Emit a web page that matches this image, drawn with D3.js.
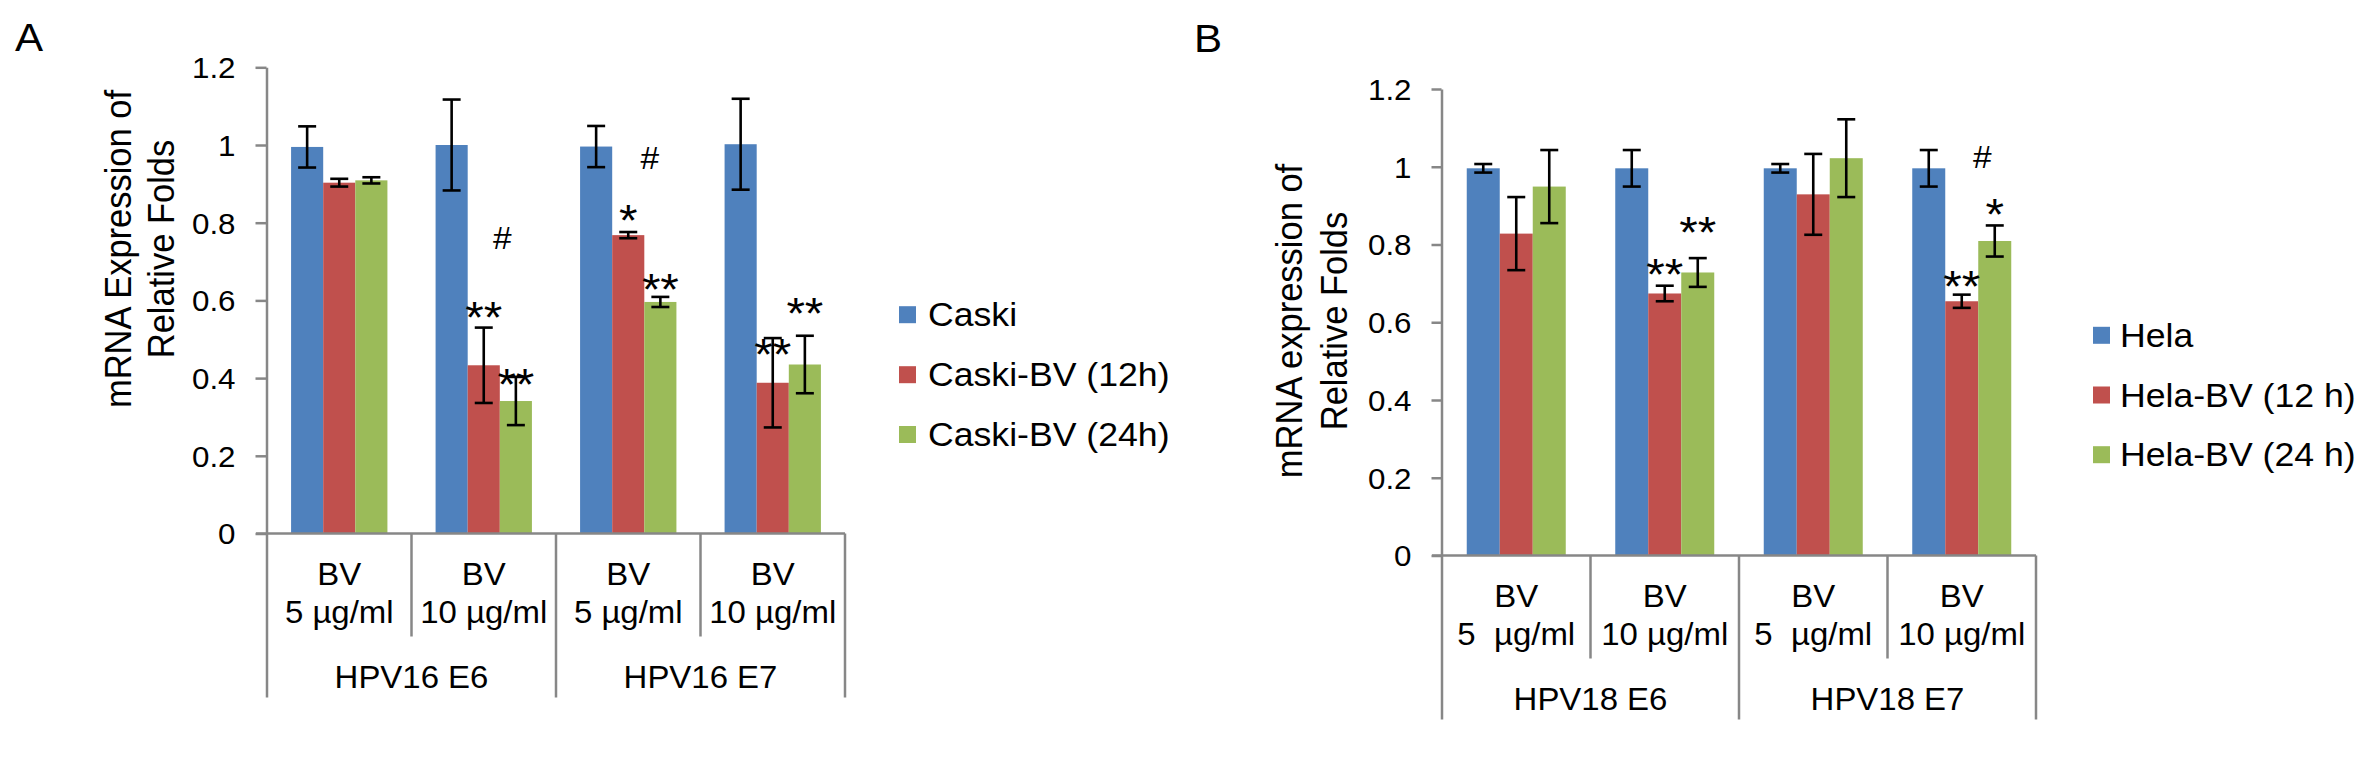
<!DOCTYPE html>
<html>
<head>
<meta charset="utf-8">
<script src="https://cdn.jsdelivr.net/npm/d3@7"></script>
<style>
html,body{margin:0;padding:0;background:#fff;}
svg{display:block;}
text{font-family:"Liberation Sans", Arial, Helvetica, sans-serif; fill:#000;}
</style>
</head>
<body>
<svg id="chart" width="2362" height="758"></svg>
<script>
// ---------- data ----------
const yTickValues = [0, 0.2, 0.4, 0.6, 0.8, 1, 1.2];
const yTickLabels = ["0", "0.2", "0.4", "0.6", "0.8", "1", "1.2"];

// Panel A
const genesA = ["HPV16 E6", "HPV16 E7"];
const dosesA = ["5 µg/ml", "10 µg/ml", "5 µg/ml", "10 µg/ml"];
const seriesA = ["Caski", "Caski-BV (12h)", "Caski-BV (24h)"];
const caski      = [0.995, 1.000, 0.996, 1.002];
const caskiErr   = [0.053, 0.117, 0.053, 0.117];
const caski12    = [0.903, 0.433, 0.768, 0.388];
const caski12Err = [0.010, 0.097, 0.008, 0.115];
const caski24    = [0.909, 0.341, 0.596, 0.435];
const caski24Err = [0.008, 0.062, 0.013, 0.074];
// [category index, bar position (bar i centre = i + 0.5), value height, mark]
const annotA = [
  [1, 1.5, 0.580, "**"], [1, 2.5, 0.408, "**"], [1, 2.08, 0.761, "#"],
  [2, 1.5, 0.831, "*"],  [2, 2.5, 0.652, "**"], [2, 2.17, 0.966, "#"],
  [3, 1.5, 0.485, "**"], [3, 2.5, 0.591, "**"]
];

// Panel B
const genesB = ["HPV18 E6", "HPV18 E7"];
const dosesB = ["5  µg/ml", "10 µg/ml", "5  µg/ml", "10 µg/ml"];
const seriesB = ["Hela", "Hela-BV (12 h)", "Hela-BV (24 h)"];
const hela      = [0.996, 0.996, 0.996, 0.996];
const helaErr   = [0.011, 0.047, 0.011, 0.047];
const hela12    = [0.828, 0.674, 0.929, 0.654];
const hela12Err = [0.094, 0.020, 0.104, 0.017];
const hela24    = [0.949, 0.728, 1.022, 0.809];
const hela24Err = [0.094, 0.037, 0.100, 0.040];
const annotB = [
  [1, 1.5, 0.747, "**"], [1, 2.5, 0.855, "**"],
  [3, 2.12, 1.026, "#"], [3, 2.5, 0.902, "*"], [3, 1.5, 0.717, "**"]
];

// ---------- style ----------
const colors = ["#4F81BD", "#C0504D", "#9BBB59"];
const axisColor = "#878787";
const SX = 1.08; // horizontal stretch of the original figure's text

const svg = d3.select("#chart");

function txt(g, str, x, y, size, anchor, rot) {
  const t = g.append("text")
    .attr("transform", `translate(${x},${y}) scale(${SX},1)` + (rot ? " rotate(-90)" : ""))
    .attr("font-size", size)
    .attr("text-anchor", anchor || "start")
    .style("white-space", "pre")
    .text(str);
  return t;
}

function drawPanel(cfg) {
  const g = svg.append("g");
  const y = d3.scaleLinear().domain([0, 1.2]).range([cfg.y0, cfg.y12]);
  const cats = d3.range(cfg.doses.length);
  const x = d3.scaleBand().domain(cats).range([cfg.x0, cfg.x1]);
  const xs = d3.scaleBand().domain(d3.range(cfg.series.length))
    .range([0, x.bandwidth()]).paddingInner(0).paddingOuter(0.75);

  // bars
  cfg.values.forEach((vals, si) => {
    g.append("g").selectAll("rect").data(vals).join("rect")
      .attr("x", (d, i) => x(i) + xs(si))
      .attr("width", xs.bandwidth())
      .attr("y", d => y(d))
      .attr("height", d => y(0) - y(d))
      .attr("fill", colors[si]);
  });

  // error bars
  cfg.values.forEach((vals, si) => {
    const eg = g.append("g").attr("stroke", "#000").attr("stroke-width", 2.6);
    vals.forEach((v, i) => {
      const e = cfg.errs[si][i];
      const cx = x(i) + xs(si) + xs.bandwidth() / 2;
      eg.append("line").attr("x1", cx).attr("x2", cx).attr("y1", y(v + e)).attr("y2", y(v - e));
      eg.append("line").attr("x1", cx - 9).attr("x2", cx + 9).attr("y1", y(v + e)).attr("y2", y(v + e));
      eg.append("line").attr("x1", cx - 9).attr("x2", cx + 9).attr("y1", y(v - e)).attr("y2", y(v - e));
    });
  });

  // y axis
  const ax = d3.axisLeft(y).tickValues(yTickValues)
    .tickFormat((d, i) => yTickLabels[i])
    .tickSize(cfg.tick).tickSizeOuter(0).tickPadding(0);
  const axg = g.append("g").attr("transform", `translate(${cfg.x0 - 0.5},0)`).call(ax)
    .attr("font-size", null).attr("font-family", null);
  axg.select(".domain").attr("stroke", axisColor).attr("stroke-width", 2.5);
  axg.selectAll(".tick line").attr("stroke", axisColor).attr("stroke-width", 2.5);
  axg.selectAll(".tick text")
    .attr("x", -cfg.labelGap / SX)
    .attr("dy", "0.36em")
    .attr("font-size", 29)
    .attr("fill", "#000")
    .attr("transform", `scale(${SX},1)`);

  // x axis line and category separators
  const y0 = y(0);
  g.append("line").attr("x1", cfg.x0 - cfg.tick).attr("x2", cfg.x1)
    .attr("y1", y0).attr("y2", y0).attr("stroke", axisColor).attr("stroke-width", 2.5);
  const bounds = cats.map(i => x(i)).concat([cfg.x1]);
  g.append("g").selectAll("line").data(bounds).join("line")
    .attr("x1", d => d).attr("x2", d => d)
    .attr("y1", y0).attr("y2", (d, i) => y0 + (i % 2 === 0 ? 164 : 103))
    .attr("stroke", axisColor).attr("stroke-width", 2.5);

  // category labels
  cats.forEach(i => {
    const cx = x(i) + x.bandwidth() / 2;
    txt(g, "BV", cx, y0 + 51, 30.5, "middle");
    txt(g, cfg.doses[i], cx, y0 + 89.5, 30.5, "middle");
  });
  cfg.genes.forEach((gn, j) => {
    const cx = (x(2 * j) + x(2 * j + 1) + x.bandwidth()) / 2;
    txt(g, gn, cx, y0 + 154.5, 30.5, "middle");
  });

  // significance marks
  cfg.annots.forEach(a => {
    const px = x(a[0]) + xs(0) + a[1] * xs.step();
    const py = y(a[2]);
    if (a[3] === "#") txt(g, a[3], px, py + 11, 31, "middle");
    else txt(g, a[3], px, py + 25, 44, "middle");
  });

  // legend
  cfg.series.forEach((s, si) => {
    const cy = cfg.legY[si];
    g.append("rect").attr("x", cfg.legX).attr("y", cy - 8.5).attr("width", 17).attr("height", 17)
      .attr("fill", colors[si]);
    txt(g, s, cfg.legTextX, cy + 11.5, 33, "start");
  });

  // axis title
  txt(g, cfg.title[0], cfg.titleX[0], cfg.titleY, 34.5, "middle", true);
  txt(g, cfg.title[1], cfg.titleX[1], cfg.titleY, 34.5, "middle", true);

  // panel letter
  txt(g, cfg.letter, cfg.letterX, cfg.letterY, 39, "start");
}

drawPanel({
  genes: genesA, doses: dosesA, series: seriesA,
  values: [caski, caski12, caski24], errs: [caskiErr, caski12Err, caski24Err],
  annots: annotA,
  x0: 267, x1: 845, y0: 533.5, y12: 67.3, tick: 11, labelGap: 31,
  legX: 899, legTextX: 928, legY: [314.7, 374.7, 434.5],
  title: ["mRNA Expression of", "Relative Folds"], titleX: [131.4, 173.6], titleY: 249,
  letter: "A", letterX: 15, letterY: 51
});

drawPanel({
  genes: genesB, doses: dosesB, series: seriesB,
  values: [hela, hela12, hela24], errs: [helaErr, hela12Err, hela24Err],
  annots: annotB,
  x0: 1442, x1: 2036, y0: 555.5, y12: 89, tick: 10, labelGap: 30,
  legX: 2093, legTextX: 2120, legY: [335.3, 395, 454.7],
  title: ["mRNA expression of", "Relative Folds"], titleX: [1302.2, 1346.6], titleY: 321,
  letter: "B", letterX: 1194, letterY: 52
});
</script>
</body>
</html>
